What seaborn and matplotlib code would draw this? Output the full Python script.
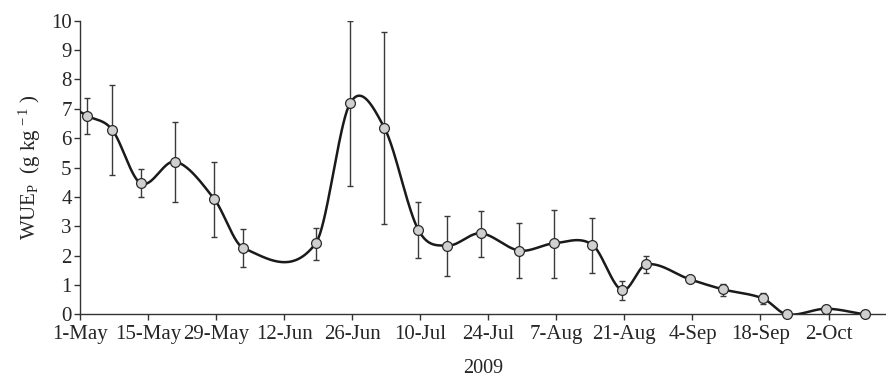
import numpy as np
import pandas as pd
import matplotlib
matplotlib.use("Agg")
import matplotlib.pyplot as plt
import seaborn as sns

# ---- data ----
day_offset = [1.5, 6.6, 12.5, 19.6, 27.6, 33.6, 48.5, 55.6, 62.6, 69.6, 75.6, 82.4,
              90.4, 97.6, 105.4, 111.5, 116.5, 125.5, 132.3, 140.5, 145.4, 153.5, 161.4]
wue = [6.76, 6.29, 4.46, 5.20, 3.93, 2.26, 2.42, 7.20, 6.36, 2.88, 2.34, 2.76,
       2.17, 2.42, 2.37, 0.82, 1.70, 1.19, 0.85, 0.54, 0.0, 0.19, 0.0]
err_hi = [7.38, 7.81, 4.96, 6.56, 5.20, 2.89, 2.95, 10.0, 9.60, 3.84, 3.34, 3.53,
          3.11, 3.56, 3.27, 1.13, 1.98, 1.24, 1.03, 0.71, 0.0, 0.19, 0.0]
err_lo = [6.15, 4.74, 3.98, 3.84, 2.62, 1.62, 1.85, 4.38, 3.09, 1.91, 1.30, 1.96,
          1.24, 1.24, 1.40, 0.49, 1.40, 1.14, 0.62, 0.35, 0.0, 0.19, 0.0]
tick_labels = ["1-May", "15-May", "29-May", "12-Jun", "26-Jun", "10-Jul",
               "24-Jul", "7-Aug", "21-Aug", "4-Sep", "18-Sep", "2-Oct"]
start_date = "2009-05-01"
x_label = "2009"
y_label = r"WUE$_\mathrm{P}$  (g kg$^{\,-1}$ )"

sns.set_style("ticks")
plt.rcParams["font.family"] = ["Liberation Serif", "DejaVu Serif"]
plt.rcParams["mathtext.fontset"] = "custom"
plt.rcParams["mathtext.rm"] = "Liberation Serif"
plt.rcParams["mathtext.it"] = "Liberation Serif:italic"

x = np.array(day_offset, float)
y = np.array(wue, float)

# Catmull-Rom style (non-uniform) Hermite smoothing through the points
def smooth(x, y, n=40):
    m = np.zeros_like(y)
    m[1:-1] = (y[2:] - y[:-2]) / (x[2:] - x[:-2])
    m[0] = (y[1] - y[0]) / (x[1] - x[0])
    m[-1] = (y[-1] - y[-2]) / (x[-1] - x[-2])
    xs, ys = [], []
    # linear lead-in to the axis from the first point
    xs.append(0.0); ys.append(y[0] - m[0] * x[0])
    for i in range(len(x) - 1):
        h = x[i + 1] - x[i]
        t = np.linspace(0, 1, n, endpoint=False)
        h00 = 2 * t**3 - 3 * t**2 + 1
        h10 = t**3 - 2 * t**2 + t
        h01 = -2 * t**3 + 3 * t**2
        h11 = t**3 - t**2
        xs.extend(x[i] + t * h)
        ys.extend(h00 * y[i] + h10 * h * m[i] + h01 * y[i + 1] + h11 * h * m[i + 1])
    xs.append(x[-1]); ys.append(y[-1])
    return np.array(xs), np.array(ys)

cx, cy = smooth(x, y)
curve = pd.DataFrame({"day": cx, "wue": cy})
pts = pd.DataFrame({"day": x, "wue": y})

fig = plt.figure(figsize=(8.87, 3.81), dpi=100)
ax = fig.add_axes([0.0902, 0.175, 0.908, 0.7707])

yerr = np.vstack([y - np.array(err_lo), np.array(err_hi) - y])
ax.errorbar(x, y, yerr=yerr, fmt="none", ecolor="#3a3a3a", elinewidth=1.0,
            capsize=2.5, capthick=1.0, zorder=2)
sns.lineplot(data=curve, x="day", y="wue", ax=ax, color="#1a1a1a", lw=1.8,
             sort=False, zorder=3)
sns.scatterplot(data=pts, x="day", y="wue", ax=ax, color="#d0d0d0",
                edgecolor="#2a2a2a", linewidth=0.9, s=50, zorder=4, clip_on=False)

base = pd.Timestamp(start_date)
tick_pos = [(pd.to_datetime(lbl + "-2009", format="%d-%b-%Y") - base).days for lbl in tick_labels]
ax.set_xticks(tick_pos)
ax.set_xticklabels(tick_labels)
ax.set_xlim(0, 165.7)
ax.set_ylim(0, 10)
ax.set_yticks(range(0, 11))
ax.tick_params(axis="both", labelsize=15, direction="out", length=4, width=1,
               color="#333333")
ax.tick_params(axis="x", pad=3.5)
ax.tick_params(axis="y", pad=2)
ax.set_xlabel(x_label, fontsize=14.5, labelpad=11)
ax.set_ylabel(y_label, fontsize=15, labelpad=6)
for s in ["top", "right"]:
    ax.spines[s].set_visible(False)
for s in ["left", "bottom"]:
    ax.spines[s].set_linewidth(1.0)
    ax.spines[s].set_color("#333333")

fig.savefig("out.png", dpi=100)
